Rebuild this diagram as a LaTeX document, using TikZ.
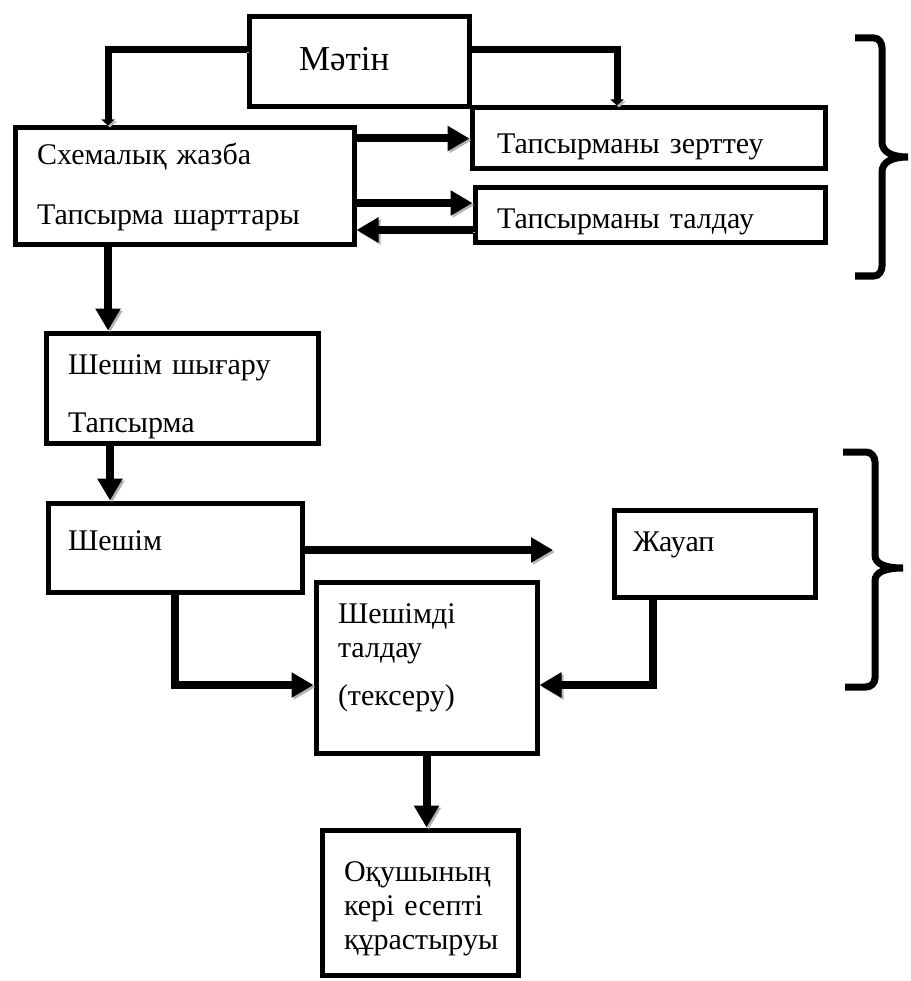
\documentclass[tikz,border=0pt]{standalone}
\usepackage{fontspec}
\setmainfont{Liberation Serif}
\usetikzlibrary{arrows.meta}

\begin{document}
\begin{tikzpicture}[x=1pt,y=-1pt,
  box/.style={draw,line width=5pt,align=left,inner xsep=22pt,inner ysep=0pt,
    font=\fontsize{30}{34}\selectfont},
  shade line/.style={preaction={draw=black!30,transform canvas={shift={(2pt,-2pt)}}}},
  link/.style={shade line,line width=8pt,-{Triangle[length=22pt,width=24pt]}},
  feed/.style={shade line,line width=7pt,-{Triangle[length=6pt,width=13pt]}},
  brace/.style={shade line,line width=7pt}]
  \useasboundingbox (0,0) rectangle (910,981);

  % boxes
  \node[box,text width=120pt,inner xsep=50pt,minimum height=90pt,text depth=6pt,
    font=\fontsize{35}{40}\selectfont] (matin) at (359,62) {Мәтін};
  \node[box,text width=295pt,minimum height=117pt] (sxema) at (184.5,186.5)
    {Схемалық жазба\\[26pt]Тапсырма шарттары};
  \node[box,text width=303pt,inner xsep=25pt,minimum height=61pt,text height=36pt] (zert) at (648.5,138.5)
    {Тапсырманы зерттеу};
  \node[box,text width=306pt,minimum height=55pt,text height=33pt] (tald) at (650,215.5)
    {Тапсырманы талдау};
  \node[box,text width=228pt,minimum height=110pt,text height=38pt] (shygaru) at (182,388)
    {Шешім шығару\\[24pt]Тапсырма};
  \node[box,text width=214pt,inner xsep=20pt,minimum height=89pt,text depth=13pt] (sheshim) at (175,547.5)
    {Шешім};
  \node[box,text width=163pt,inner xsep=19pt,minimum height=87pt,text depth=23pt] (zhauap) at (714.5,553.5)
    {Жауап};
  \node[box,text width=177pt,minimum height=171pt,text depth=108pt] (taldau2) at (426.5,667.5)
    {Шешімді\\талдау\\[14pt](тексеру)};
  \node[box,text width=152pt,minimum height=145pt,text height=32pt] (okushy) at (420,902.5)
    {Оқушының\\кері есепті\\құрастыруы};

  \coordinate (sh-end) at (553,550);

  % connectors
  \draw[feed] ([yshift=12pt]matin.west) -| ([xshift=-76.5pt]sxema.north);
  \draw[feed] ([yshift=12pt]matin.east) -| ([xshift=-31.5pt]zert.north);
  \draw[link] (sxema.east |- zert.west) -- (zert.west);
  \draw[link] ([yshift=12.5pt]tald.west -| sxema.east) -- ([yshift=12.5pt]tald.west);
  \draw[link] ([yshift=-14.5pt]tald.west) -- ([yshift=-14.5pt]tald.west -| sxema.east);
  \draw[link] ([xshift=-76.5pt]sxema.south) -- ([xshift=-76.5pt]sxema.south |- shygaru.north);
  \draw[link] ([xshift=-72pt]shygaru.south) -- ([xshift=-72pt]shygaru.south |- sheshim.north);
  \draw[link] (sheshim.east |- sh-end) -- (sh-end);
  \draw[link] (sheshim.south) |- ([yshift=-17.5pt]taldau2.west);
  \draw[link] ([xshift=-61.5pt]zhauap.south) |- ([yshift=-17.5pt]taldau2.east);
  \draw[link] (taldau2.south) -- (taldau2.south |- okushy.north);

  % braces
  \draw[brace] (855,38) -- (874,38) to[out=0,in=90] (882,48) -- (882,142)
    .. controls (882,152) and (892,157) .. (908,157)
    .. controls (892,157) and (882,162) .. (882,172) -- (882,266)
    to[out=-90,in=0] (874,276) -- (855,276);
  \draw[brace] (843,452) -- (866,452) to[out=0,in=90] (875,462) -- (875,555)
    .. controls (875,564) and (885,568) .. (903,568)
    .. controls (885,568) and (875,572) .. (875,581) -- (875,678)
    to[out=-90,in=0] (866,687) -- (845,687);
\end{tikzpicture}
\end{document}
